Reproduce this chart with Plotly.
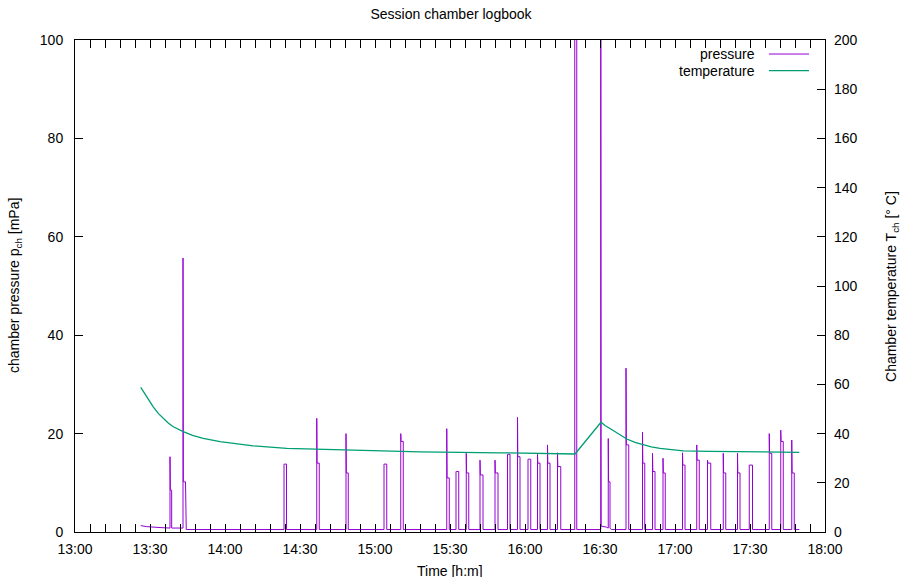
import datetime as dt
import plotly.graph_objects as go

DAY = "2024-01-01 "

# Temperature curve (time, °C)
temp_times = ["13:26:18", "13:27:30", "13:28:42", "13:30:00", "13:31:18", "13:33:18", "13:35:18",
              "13:37:18", "13:39:18", "13:41:18", "13:43:18", "13:47:00", "13:51:18", "13:58:00",
              "14:05:00", "14:11:18", "14:24:42", "14:38:00", "14:58:00", "15:18:00", "15:50:00",
              "16:20:00", "16:30:24", "16:32:00", "16:34:00", "16:37:30", "16:40:42", "16:44:00",
              "16:47:18", "16:50:30", "16:54:00", "16:58:30", "17:03:18", "17:14:00", "17:27:12",
              "17:49:42"]
temp_values = [58.8, 56.8, 55.0, 52.8, 50.9, 48.2, 46.2,
               44.3, 42.8, 41.7, 40.8, 39.3, 38.1, 36.7,
               35.8, 35.0, 34.0, 33.6, 33.0, 32.6, 32.2,
               31.7, 44.6, 43.3, 42.1, 39.8, 37.8, 36.4,
               35.4, 34.6, 34.0, 33.4, 33.0, 32.8, 32.6,
               32.4]

# Pressure baseline (time, mPa)
base_times = ["13:26:18", "13:28:30", "13:34:00", "13:37:30", "13:44:30",
              "16:30:27", "16:32:30", "16:33:10", "16:34:30", "17:49:42"]
base_values = [1.3, 1.1, 0.9, 0.8, 0.5,
               1.2, 1.0, 0.8, 0.5, 0.5]

# Pressure pulses: start, end, peak, plateau (mPa)
pulse_start = ["13:38:00", "13:43:12", "14:23:36", "14:36:42", "14:48:24", "15:03:36", "15:10:18",
               "15:28:42", "15:32:24", "15:36:30", "15:42:00", "15:48:00", "15:53:00", "15:57:00",
               "16:01:12", "16:05:00", "16:09:00", "16:13:00", "16:19:54", "16:30:18", "16:33:18",
               "16:40:24", "16:47:00", "16:51:00", "16:55:12", "17:03:00", "17:08:42", "17:13:00",
               "17:19:18", "17:25:00", "17:29:42", "17:37:42", "17:42:18", "17:46:42"]
pulse_end = ["13:38:40", "13:44:12", "14:24:36", "14:37:42", "14:49:18", "15:04:42", "15:11:18",
             "15:29:42", "15:33:30", "15:37:30", "15:43:12", "15:49:12", "15:54:00", "15:58:00",
             "16:02:18", "16:06:00", "16:10:00", "16:14:18", "16:20:42", "16:30:24", "16:34:00",
             "16:41:30", "16:47:54", "16:52:00", "16:56:06", "17:04:00", "17:09:42", "17:14:18",
             "17:20:18", "17:26:00", "17:31:00", "17:38:42", "17:43:18", "17:47:42"]
pulse_peak = [15.3, 55.7, 13.8, 23.1, 20.0, 13.8, 20.0,
              21.0, 12.3, 16.0, 14.6, 14.6, 15.8, 23.3,
              14.8, 15.8, 17.7, 16.1, 130.0, 130.0, 19.0,
              33.3, 20.3, 16.0, 15.0, 16.1, 17.7, 14.6,
              16.0, 16.0, 13.6, 20.0, 20.7, 18.7]
pulse_plateau = [8.5, 10.2, 13.8, 14.0, 12.0, 13.8, 18.4,
                 11.0, 12.3, 12.0, 11.6, 12.0, 15.8, 15.3,
                 14.8, 14.0, 14.0, 13.3, 130.0, 130.0, 10.2,
                 17.7, 14.0, 12.3, 12.0, 13.6, 14.6, 14.0,
                 12.0, 12.0, 13.6, 16.0, 18.4, 12.0]


def T(s):
    return dt.datetime.strptime(DAY + s, "%Y-%m-%d %H:%M:%S")


# assemble the pressure trace from baseline and pulses
events = []
for t, v in zip(base_times, base_values):
    events.append((T(t), 1, v))
for s, e, pk, pl in zip(pulse_start, pulse_end, pulse_peak, pulse_plateau):
    ts, te = T(s), T(e)
    b = base_values[0]
    for bt, bv in zip(base_times, base_values):
        if T(bt) <= ts:
            b = bv
    step = dt.timedelta(seconds=min(8, (te - ts).total_seconds() / 3))
    events += [(ts, 0, b), (ts, 0, pk), (ts + step, 0, pl), (te, 0, pl), (te, 0, b)]
events.sort(key=lambda x: (x[0], x[1]))
p_x = [ev[0] for ev in events]
p_y = [ev[2] for ev in events]

FONT = "Liberation Sans, Arial, sans-serif"
FS = 14

fig = go.Figure()
fig.add_trace(go.Scatter(x=p_x, y=p_y, mode="lines", name="pressure",
                         line=dict(color="#9400D3", width=1), yaxis="y"))
fig.add_trace(go.Scatter(x=[T(t) for t in temp_times], y=temp_values, mode="lines",
                         name="temperature", line=dict(color="#009E73", width=1.3), yaxis="y2"))

fig.update_layout(
    width=902, height=577,
    margin=dict(l=75, r=77, t=40, b=45),
    paper_bgcolor="white", plot_bgcolor="white",
    font=dict(family=FONT, size=FS, color="black"),
    showlegend=False,
    title=dict(text="Session chamber logbook", x=0.5, xanchor="center", y=0.975, yanchor="middle",
               font=dict(size=FS)),
    xaxis=dict(type="date", range=[T("13:00:00"), T("18:00:00")],
               tick0=T("13:00:00"), dtick=30 * 60 * 1000, tickformat="%H:%M",
               ticks="inside", ticklen=8, tickcolor="black", showgrid=False, zeroline=False,
               showline=True, linecolor="black", linewidth=1, mirror="allticks",
               minor=dict(dtick=6 * 60 * 1000, ticks="inside", ticklen=4, tickcolor="black", showgrid=False),
               ticklabelstandoff=4),
    yaxis=dict(range=[0, 100], dtick=20, ticks="inside", ticklen=8, tickcolor="black",
               showgrid=False, zeroline=False, showline=True, linecolor="black", linewidth=1,
               mirror=True, ticklabelstandoff=8),
    yaxis2=dict(range=[0, 200], dtick=20, ticks="inside", ticklen=8, tickcolor="black",
                overlaying="y", side="right", showgrid=False, zeroline=False, showline=False,
                ticklabelstandoff=8),
)

annos = [
    dict(text="chamber pressure p<sub>ch</sub> [mPa]", x=-0.08, y=0.5, textangle=-90),
    dict(text="Chamber temperature T<sub>ch</sub> [° C]", x=1.0893, y=0.5, textangle=-90),
    dict(text="Time [h:m]", x=0.5, y=-0.0793),
    dict(text="pressure", x=0.9093, y=0.9715, xanchor="right"),
    dict(text="temperature", x=0.9093, y=0.9376, xanchor="right"),
]
for a in annos:
    a.setdefault("xanchor", "center")
    fig.add_annotation(xref="paper", yref="paper", showarrow=False, yanchor="middle",
                       font=dict(family=FONT, size=FS, color="black"), **a)

fig.add_shape(type="line", xref="paper", yref="paper", x0=0.9253, x1=0.9787, y0=0.9715, y1=0.9715,
              line=dict(color="#9400D3", width=1))
fig.add_shape(type="line", xref="paper", yref="paper", x0=0.9253, x1=0.9787, y0=0.9376, y1=0.9376,
              line=dict(color="#009E73", width=1.3))

fig.write_html("out.html", config={"displayModeBar": False},
               post_script="document.body.style.margin='0';")
